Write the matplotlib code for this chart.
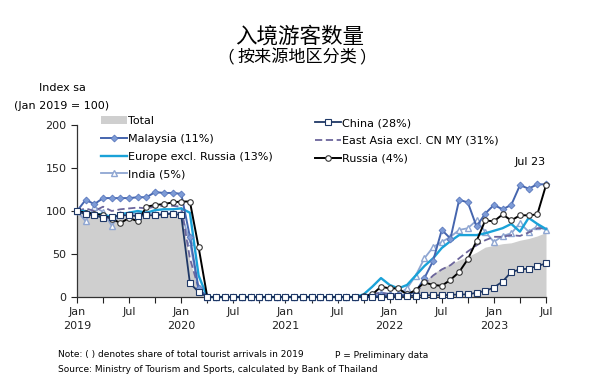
import numpy as np
import matplotlib
matplotlib.use("Agg")
import matplotlib.pyplot as plt

plt.rcParams['font.family'] = ['DejaVu Sans', 'Noto Sans CJK SC']

# monthly index, Jan 2019 .. Jul 2023 (Jan 2019 = 100)
months = np.arange(55)
tick_labels = ['Jan\n2019', 'Jul', 'Jan\n2020', 'Jul', 'Jan\n2021', 'Jul',
               'Jan\n2022', 'Jul', 'Jan\n2023', 'Jul']

zeros_2020 = [0] * 9
zeros_2021 = [0] * 9

total = ([100, 96, 97, 97, 95, 97, 97, 97, 97, 98, 98, 98]
         + [98, 42, 8] + zeros_2020
         + zeros_2021 + [1, 2, 4]
         + [4, 4, 5, 10, 18, 27, 34, 38, 43, 47, 52, 58]
         + [60, 62, 63, 66, 68, 71, 75])
malaysia = ([100, 113, 108, 115, 115, 115, 115, 116, 116, 122, 121, 121]
            + [120, 70, 10] + zeros_2020
            + zeros_2021 + [0, 1, 2]
            + [2, 2, 3, 6, 22, 42, 78, 68, 113, 110, 82, 97]
            + [107, 102, 107, 130, 126, 131, 131])
china = ([100, 96, 95, 92, 93, 95, 95, 94, 95, 95, 96, 97]
         + [95, 16, 6] + zeros_2020
         + zeros_2021 + [0, 0, 0]
         + [1, 1, 1, 1.5, 2, 2, 2, 2.5, 3, 3, 5, 7]
         + [11, 18, 29, 32, 33, 36, 39])
europe = ([100, 100, 95, 97, 92, 96, 98, 100, 98, 101, 102, 102]
          + [103, 98, 25] + zeros_2020
          + zeros_2021 + [3, 12, 22]
          + [14, 10, 14, 25, 36, 45, 57, 65, 72, 72, 72, 74]
          + [77, 80, 85, 76, 92, 85, 79])
east_asia = ([100, 103, 100, 105, 100, 102, 103, 104, 103, 105, 106, 106]
             + [105, 45, 10] + zeros_2020
             + zeros_2021 + [1, 3, 5]
             + [3, 3, 4, 6, 15, 25, 32, 37, 45, 53, 60, 66]
             + [70, 70, 72, 71, 75, 80, 80])
russia = ([100, 98, 97, 95, 91, 86, 92, 88, 105, 107, 108, 110]
          + [111, 111, 58] + zeros_2020
          + zeros_2021 + [1, 3, 12]
          + [10, 10, 3, 8, 17, 14, 13, 20, 29, 44, 65, 89]
          + [88, 96, 89, 95, 95, 96, 130])
india = ([100, 88, 105, 99, 83, 97, 97, 97, 97, 97, 97, 98]
         + [98, 64, 7] + zeros_2020
         + zeros_2021 + [1, 4, 5]
         + [4, 3, 10, 25, 45, 58, 64, 70, 78, 80, 89, 76]
         + [64, 71, 74, 86, 76, 82, 78])

fig = plt.figure(figsize=(6, 3.9), dpi=100)
ax = fig.add_axes([77/600, 93/390, 469/600, 172/390])

h_total = ax.fill_between(months, total, 0, color='#cfcfcf', lw=0, label='Total', zorder=1)
h_india, = ax.plot(months, india, color='#8fa6d2', lw=1.3, marker='^', ms=5,
                   mfc='white', mec='#8fa6d2', mew=1, label='India (5%)', zorder=3, clip_on=False)
h_ea, = ax.plot(months, east_asia, color='#6c669c', lw=1.3, ls=(0, (4, 2)),
                label='East Asia excl. CN MY (31%)', zorder=4, clip_on=False)
h_eu, = ax.plot(months, europe, color='#1aa2d8', lw=1.7,
                label='Europe excl. Russia (13%)', zorder=4, clip_on=False)
h_my, = ax.plot(months, malaysia, color='#4565ae', lw=1.4, marker='D', ms=3.5,
                mfc='#7d9bd6', mec='#5a78bd', mew=0.6, label='Malaysia (11%)', zorder=5, clip_on=False)
h_ru, = ax.plot(months, russia, color='black', lw=1.4, marker='o', ms=4,
                mfc='white', mec='#333333', mew=0.8, label='Russia (4%)', zorder=6, clip_on=False)
h_cn, = ax.plot(months, china, color='#1f3866', lw=1.3, marker='s', ms=4,
                mfc='white', mec='#1f3866', mew=0.8, label='China (28%)', zorder=7, clip_on=False)

ax.set_xlim(0, 54)
ax.set_ylim(0, 200)
ax.set_yticks([0, 50, 100, 150, 200])
ax.set_xticks(range(0, 55, 6))
ax.set_xticklabels(tick_labels, linespacing=1.5)
ax.set_xticks(range(3, 55, 6), minor=True)
ax.tick_params(axis='both', labelsize=8, colors='#222222', length=4, width=0.8, direction='out')
ax.tick_params(axis='x', which='minor', length=4, width=0.8, color='#222222')
ax.tick_params(axis='x', pad=3)
for s in ['top', 'right']:
    ax.spines[s].set_visible(False)
for s in ['left', 'bottom']:
    ax.spines[s].set_color('#333333')
    ax.spines[s].set_linewidth(0.9)

# legends: two columns
leg_kw = dict(frameon=False, fontsize=8, handlelength=2.3, handletextpad=0.1,
              labelspacing=0.7, borderpad=0, borderaxespad=0, loc='upper left')
fig.legend([h_total, h_my, h_eu, h_india],
           ['Total', 'Malaysia (11%)', 'Europe excl. Russia (13%)', 'India (5%)'],
           bbox_to_anchor=(101/600, 1 - 116/390), **leg_kw)
fig.legend([h_cn, h_ea, h_ru],
           ['China (28%)', 'East Asia excl. CN MY (31%)', 'Russia (4%)'],
           bbox_to_anchor=(315/600, 1 - 118/390), **leg_kw)

fig.text(530/600, 1 - 162/390, 'Jul 23', fontsize=8, ha='center', va='center')

# titles
fig.text(0.5, 1 - 37/390, '入境游客数量', fontsize=15.5, ha='center', va='center',
         family=['Noto Sans CJK SC'])
fig.text(226/600, 1 - 58/390, '（', fontsize=12, ha='center', va='center',
         family=['Noto Sans CJK SC'])
fig.text(297/600, 1 - 58/390, '按来源地区分类', fontsize=12.3, ha='center', va='center',
         family=['Noto Sans CJK SC'])
fig.text(368/600, 1 - 58/390, '）', fontsize=12, ha='center', va='center',
         family=['Noto Sans CJK SC'])

fig.text(62/600, 1 - 88/390, 'Index sa', fontsize=8, ha='center', va='center')
fig.text(62/600, 1 - 106/390, '(Jan 2019 = 100)', fontsize=8, ha='center', va='center')

fig.text(58/600, 1 - 355/390, 'Note: ( ) denotes share of total tourist arrivals in 2019',
         fontsize=6.5, ha='left', va='center')
fig.text(335/600, 1 - 355/390, 'P = Preliminary data', fontsize=6.5, ha='left', va='center')
fig.text(58/600, 1 - 369/390, 'Source: Ministry of Tourism and Sports, calculated by Bank of Thailand',
         fontsize=6.5, ha='left', va='center')

fig.savefig('out.png', dpi=100)
